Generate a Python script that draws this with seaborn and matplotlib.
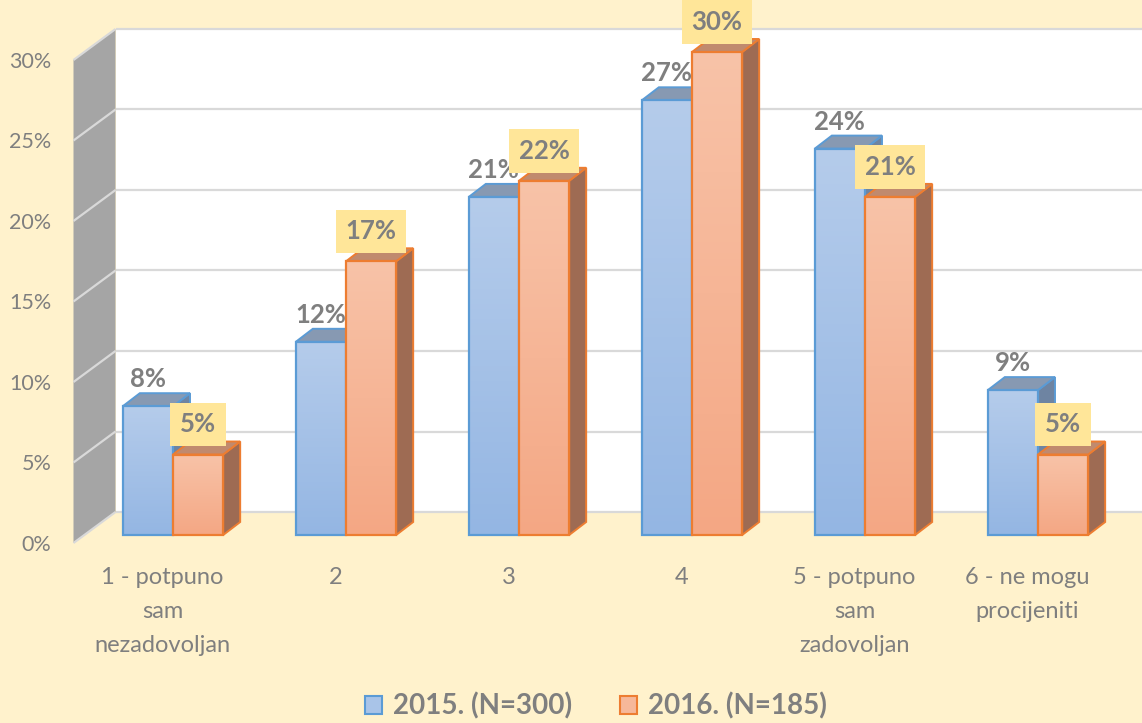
import numpy as np
import pandas as pd
import seaborn as sns
import matplotlib.pyplot as plt
from matplotlib.patches import Polygon, Patch
from matplotlib.colors import LinearSegmentedColormap

##### Data

categories = ['1 - potpuno\nsam\nnezadovoljan', '2', '3', '4',
              '5 - potpuno\nsam\nzadovoljan', '6 - ne mogu\nprocijeniti']
years = ['2015. (N=300)', '2016. (N=185)']
values_2015 = [8, 12, 21, 27, 24, 9]
values_2016 = [5, 17, 22, 30, 21, 5]
y_ticks = [0, 5, 10, 15, 20, 25, 30]

df = pd.DataFrame({'kategorija': categories * 2,
                   'godina': [years[0]] * 6 + [years[1]] * 6,
                   'udio': values_2015 + values_2016})

##### Style

BG = '#FFF2CC'
TXT = '#7F7F7F'
front_top = ['#B5CCEB', '#F8C3A8']
front_bot = ['#94B6E3', '#F4A784']
edge = ['#5B9BD5', '#ED7D31']
top_face = ['#8799B2', '#C08A6E']
side_face = ['#6E84A2', '#9E6B53']

sns.set_style('white')
plt.rcParams['font.family'] = ['Lato', 'DejaVu Sans']

fig = plt.figure(figsize=(11.42, 7.23), dpi=100, facecolor=BG)
ax = fig.add_axes([84 / 1142, (723 - 535) / 723, 1027 / 1142, 483 / 723])
ax.set_facecolor('none')

sns.barplot(data=df, x='kategorija', y='udio', hue='godina',
            palette=front_bot, width=0.58, saturation=1, legend=False, ax=ax)
xl, xr = -0.5145, 5.422
ax.set_xlim(xl, xr)
ax.set_ylim(0, 30)
ax.axis('off')

# pixel -> data scale for the fake 3D depth
p = ax.transData.transform([(0, 0), (1, 1)])
sx, sy = p[1, 0] - p[0, 0], p[1, 1] - p[0, 1]
def off(dx, dy):
    return dx / sx, dy / sy

bdx, bdy = off(31.5, 23)    # back wall
fdx, fdy = off(-10.5, -8)   # front edge
ddx, ddy = off(17, 13)      # bar depth

# walls and floor
ax.add_patch(Polygon([(xl + fdx, fdy), (xr + bdx, fdy), (xr + bdx, bdy), (xl + bdx, bdy)],
                     closed=True, fc=BG, ec='none', zorder=0.4, clip_on=False))
ax.add_patch(Polygon([(xl + bdx, bdy), (xr + bdx, bdy), (xr + bdx, 30 + bdy), (xl + bdx, 30 + bdy)],
                     closed=True, fc='white', ec='none', zorder=0.5, clip_on=False))
ax.add_patch(Polygon([(xl + fdx, fdy), (xl + bdx, bdy), (xl + bdx, 30 + bdy), (xl + fdx, 30 + fdy)],
                     closed=True, fc='#A5A5A5', ec='none', zorder=0.6, clip_on=False))
for t in y_ticks:
    ax.plot([xl + bdx, xr + bdx], [t + bdy, t + bdy], color='#D9D9D9', lw=1.6,
            zorder=0.7, clip_on=False, solid_capstyle='butt')
    ax.plot([xl + fdx, xl + bdx], [t + fdy, t + bdy], color='#D9D9D9', lw=1.6,
            zorder=0.7, clip_on=False, solid_capstyle='butt')
    ax.annotate(f'{t}%', (xl, t), xytext=((-10.5 - 22) * 0.72, -10 * 0.72),
                textcoords='offset points', ha='right', va='center',
                fontsize=15.5, color=TXT, annotation_clip=False)

# bars: gradient front, top and side faces
vals = [values_2015, values_2016]
grad = np.linspace(0, 1, 256).reshape(-1, 1)
for i, bar in enumerate(ax.patches[:12]):
    k, c = divmod(i, 6)
    x0, w, h = bar.get_x(), bar.get_width(), bar.get_height()
    z = 2 + 2 * k
    ax.add_patch(Polygon([(x0 + w, 0), (x0 + w + ddx, ddy), (x0 + w + ddx, h + ddy), (x0 + w, h)],
                         closed=True, fc=side_face[k], ec=edge[k], lw=1.4, zorder=z, clip_on=False))
    ax.add_patch(Polygon([(x0, h), (x0 + w, h), (x0 + w + ddx, h + ddy), (x0 + ddx, h + ddy)],
                         closed=True, fc=top_face[k], ec=edge[k], lw=1.4, zorder=z, clip_on=False))
    cm = LinearSegmentedColormap.from_list('g', [front_bot[k], front_top[k]])
    im = ax.imshow(grad, extent=[x0, x0 + w, 0, h], origin='lower', aspect='auto',
                   cmap=cm, zorder=z + 0.5)
    im.set_clip_path(bar)
    bar.set_facecolor('none')
    bar.set_edgecolor(edge[k])
    bar.set_linewidth(1.6)
    bar.set_zorder(z + 0.6)
    bar.set_clip_on(False)

    if k == 0:
        ax.annotate(f'{vals[k][c]}%', (x0 + w / 2, h), xytext=(0, 27 * 0.72),
                    textcoords='offset points', ha='center', va='center',
                    fontsize=18.5, fontweight='bold', color=TXT, zorder=10,
                    annotation_clip=False)
    else:
        ax.annotate(f'{vals[k][c]}%', (x0 + w / 2, h), xytext=(0, 30 * 0.72),
                    textcoords='offset points', ha='center', va='center',
                    fontsize=18.5, fontweight='bold', color=TXT, zorder=10,
                    annotation_clip=False,
                    bbox=dict(boxstyle='square,pad=0.38', fc='#FFE699', ec='none'))

ax.set_xlim(xl, xr)
ax.set_ylim(0, 30)

# category labels
for i, cat in enumerate(categories):
    ax.annotate(cat, (i, 0), xytext=(-10.5 * 0.72, -(8 + 24) * 0.72),
                textcoords='offset points', ha='center', va='top',
                fontsize=17, color=TXT, linespacing=1.75, annotation_clip=False)

# legend
handles = [Patch(fc='#A9C4E8', ec=edge[0], lw=1.5), Patch(fc='#F6B89A', ec=edge[1], lw=1.5)]
leg = fig.legend(handles, years, loc='center', bbox_to_anchor=(596 / 1142, 1 - 706 / 723),
                 ncol=2, frameon=False, handlelength=0.62, handleheight=0.62,
                 handletextpad=0.4, columnspacing=1.7, borderpad=0,
                 prop={'size': 20, 'weight': 'bold'})
for t in leg.get_texts():
    t.set_color(TXT)

plt.savefig('out.png', dpi=100, facecolor=BG)
